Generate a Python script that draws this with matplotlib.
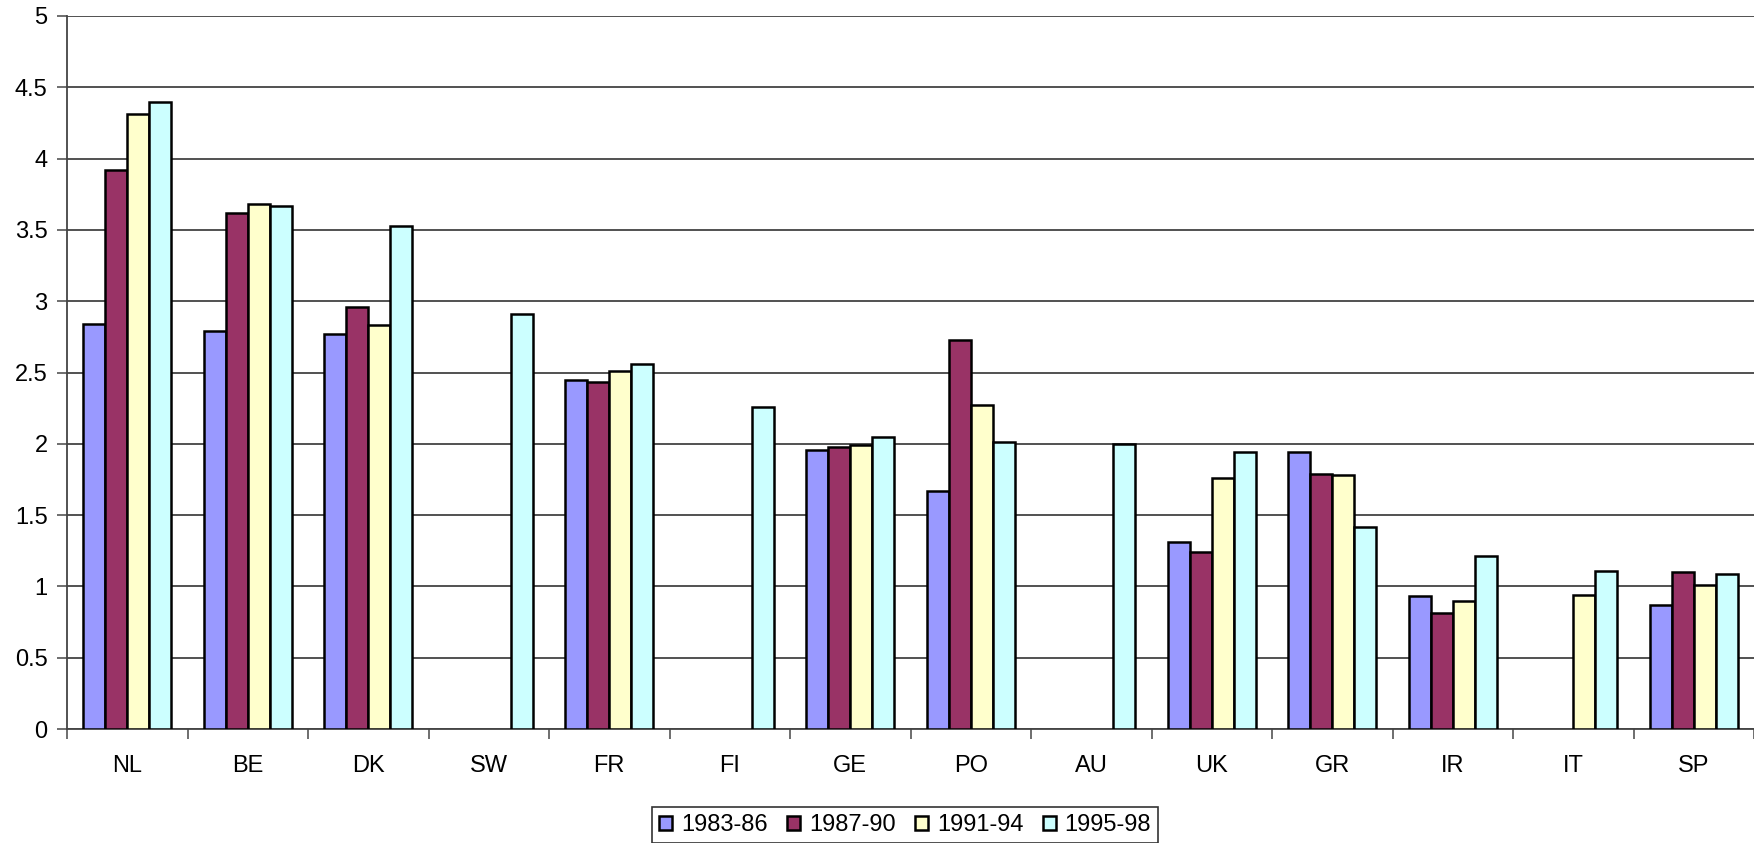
import numpy as np
import matplotlib.pyplot as plt

plt.rcParams['font.family'] = ['Liberation Sans', 'DejaVu Sans']

# Country groups and the four period series (NaN = no data)
countries = ["NL", "BE", "DK", "SW", "FR", "FI", "GE", "PO", "AU", "UK", "GR", "IR", "IT", "SP"]
periods = ["1983-86", "1987-90", "1991-94", "1995-98"]
nan = np.nan
v_1983_86 = [2.84, 2.79, 2.77, nan, 2.45, nan, 1.96, 1.67, nan, 1.31, 1.94, 0.93, nan, 0.87]
v_1987_90 = [3.92, 3.62, 2.96, nan, 2.43, nan, 1.98, 2.73, nan, 1.24, 1.79, 0.81, nan, 1.10]
v_1991_94 = [4.31, 3.68, 2.83, nan, 2.51, nan, 1.99, 2.27, nan, 1.76, 1.78, 0.90, 0.94, 1.01]
v_1995_98 = [4.40, 3.67, 3.53, 2.91, 2.56, 2.26, 2.05, 2.01, 2.00, 1.94, 1.42, 1.21, 1.11, 1.09]
series = [v_1983_86, v_1987_90, v_1991_94, v_1995_98]
colors = ["#9999FF", "#993366", "#FFFFCC", "#CCFFFF"]

fig = plt.figure(figsize=(17.54, 8.43), dpi=100)
W, H = 1754, 843
ax = fig.add_axes([67 / W, (H - 729) / H, (W - 67) / W, (729 - 16) / H])

n = len(countries)
centers = np.arange(n) + 0.5
bw = 0.183
for k, (vals, col) in enumerate(zip(series, colors)):
    vals = np.asarray(vals, dtype=float)
    ok = ~np.isnan(vals)
    xs = centers + (k - 1.5) * bw
    ax.bar(xs[ok], vals[ok], width=bw, color=col, edgecolor="black",
           linewidth=1.8, zorder=3)
    # legend proxy
    ax.bar([nan], [nan], width=bw, color=col, edgecolor="black",
           linewidth=1.8, label=periods[k])

ax.set_xlim(0, n)
ax.set_ylim(0, 5)
ax.set_yticks(np.arange(0, 5.01, 0.5))
ax.set_yticklabels(["0", "0.5", "1", "1.5", "2", "2.5", "3", "3.5", "4", "4.5", "5"])
ax.yaxis.grid(True, color="#333333", linewidth=1.2, zorder=0)
ax.set_axisbelow(True)

ax.set_xticks(centers)
ax.set_xticklabels(countries)
ax.set_xticks(np.arange(0, n + 1), minor=True)
ax.tick_params(axis="x", which="major", length=0, pad=19, labelsize=17)
ax.tick_params(axis="x", which="minor", length=7, width=1.2, color="#555555", direction="out")
ax.tick_params(axis="y", length=7, width=1.2, color="#555555", labelsize=17, pad=7)

for side in ["top", "right"]:
    ax.spines[side].set_visible(False)
ax.spines["left"].set_color("#444444")
ax.spines["left"].set_linewidth(1.3)
ax.spines["bottom"].set_color("#444444")
ax.spines["bottom"].set_linewidth(1.3)

leg = fig.legend(loc="upper left", bbox_to_anchor=(652 / W, (H - 807) / H), ncol=4,
                 fontsize=17, frameon=True, fancybox=False, handlelength=0.55,
                 handleheight=0.55, handletextpad=0.38, columnspacing=0.82,
                 borderpad=0.3, borderaxespad=0)
leg.get_frame().set_edgecolor("black")
leg.get_frame().set_linewidth(1.2)

fig.savefig("out.png", dpi=100)
